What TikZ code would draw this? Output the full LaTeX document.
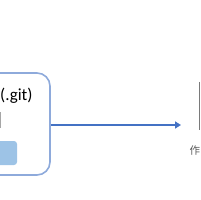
\documentclass[tikz,border=0pt]{standalone}
\usepackage{fontspec}
\setmainfont{Carlito}
\newfontfamily\cjk{Noto Sans CJK JP}
\usetikzlibrary{arrows.meta}
\definecolor{boxblue}{HTML}{8EAADB}
\definecolor{fillblue}{HTML}{9DC3E6}
\definecolor{arrowblue}{HTML}{4472C4}
\definecolor{graytxt}{HTML}{595959}
\tikzset{
  repobox/.style={draw=boxblue, line width=1.6pt, rounded corners=13pt},
  innerbox/.style={fill=fillblue, draw=none, rounded corners=3pt},
  flow/.style={draw=arrowblue, line width=1.5pt, -{Triangle[length=6pt,width=7pt]}},
}
\begin{document}
\begin{tikzpicture}[x=1pt,y=-1pt]
\useasboundingbox (0,0) rectangle (200,200);
\draw[repobox] (-60,73) rectangle (50,175);
\node[anchor=base west, inner sep=0pt, font=\fontsize{17}{20}\selectfont] (git) at (0,100) {(.git)};
\draw[gray!70, line width=0.5pt] (0.5,112) -- (0.5,128);
\fill[innerbox] (-30,141) rectangle (17,165);
\coordinate (src) at (51,125);
\coordinate (dst) at (181,125);
\draw[flow] (src) -- (dst);
\draw[graytxt!80, line width=1pt] (199,82) -- (199,130);
\node[anchor=north west, inner sep=0pt, text=graytxt, font=\cjk\fontsize{10.5}{12}\selectfont] (work) at (189.5,145.5) {作};
\end{tikzpicture}
\end{document}
